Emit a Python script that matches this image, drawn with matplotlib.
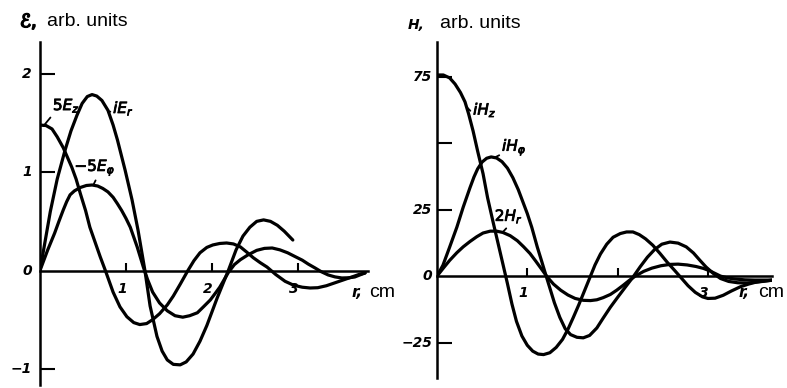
import matplotlib.pyplot as plt
import matplotlib.patheffects as pe

# --- electric field components, r in cm ---
r_Er = [0.0, 0.06, 0.12, 0.20, 0.29, 0.36, 0.43, 0.49, 0.55, 0.605, 0.66, 0.72, 0.79, 0.85,
        0.90, 0.99, 1.07, 1.14, 1.22, 1.28, 1.36, 1.42, 1.48, 1.55, 1.63, 1.70, 1.78, 1.86,
        1.94, 2.06, 2.19, 2.28, 2.36, 2.44, 2.52, 2.60, 2.68, 2.76, 2.84, 2.94]
iEr = [0.0, 0.30, 0.60, 0.93, 1.22, 1.42, 1.58, 1.70, 1.77, 1.79, 1.775, 1.73, 1.63, 1.48,
       1.33, 1.02, 0.72, 0.41, 0.0, -0.36, -0.67, -0.82, -0.91, -0.955, -0.96, -0.93, -0.85, -0.72,
       -0.56, -0.28, 0.0, 0.21, 0.35, 0.44, 0.50, 0.515, 0.50, 0.46, 0.40, 0.31]

r_Ez = [0.0, 0.07, 0.14, 0.20, 0.27, 0.33, 0.37, 0.42, 0.47, 0.53, 0.58, 0.64, 0.70, 0.76,
        0.85, 0.93, 1.01, 1.09, 1.16, 1.24, 1.31, 1.39, 1.48, 1.55, 1.63, 1.72, 1.79, 1.86,
        1.94, 2.01, 2.09, 2.17, 2.25, 2.33, 2.40, 2.48, 2.56, 2.64, 2.74, 2.85, 2.95, 3.05,
        3.14, 3.23, 3.33, 3.43, 3.53, 3.63, 3.71, 3.78]
Ez5 = [1.48, 1.475, 1.44, 1.36, 1.25, 1.13, 1.05, 0.93, 0.78, 0.61, 0.44, 0.29, 0.14, 0.0,
       -0.22, -0.37, -0.47, -0.53, -0.55, -0.54, -0.50, -0.44, -0.35, -0.26, -0.14, 0.0, 0.10, 0.18,
       0.235, 0.26, 0.275, 0.28, 0.27, 0.24, 0.19, 0.13, 0.08, 0.035, -0.04, -0.11, -0.15, -0.17,
       -0.178, -0.175, -0.155, -0.125, -0.095, -0.065, -0.04, -0.025]

r_Ephi = [0.0, 0.09, 0.17, 0.22, 0.27, 0.31, 0.35, 0.40, 0.47, 0.54, 0.605, 0.67, 0.73, 0.79,
          0.85, 0.90, 0.95, 1.00, 1.05, 1.09, 1.13, 1.20, 1.25, 1.31, 1.39, 1.48, 1.57, 1.66,
          1.74, 1.83, 1.90, 1.98, 2.04, 2.09, 2.19, 2.26, 2.33, 2.42, 2.52, 2.61, 2.70, 2.79,
          2.88, 2.97, 3.05, 3.12, 3.20, 3.27, 3.35, 3.43, 3.51, 3.59, 3.66, 3.72, 3.78]
Ephi5 = [0.0, 0.21, 0.38, 0.50, 0.615, 0.70, 0.77, 0.81, 0.845, 0.865, 0.87, 0.86, 0.835, 0.80,
         0.745, 0.68, 0.61, 0.53, 0.44, 0.34, 0.24, 0.04, -0.09, -0.22, -0.33, -0.41, -0.46, -0.475,
         -0.46, -0.43, -0.37, -0.30, -0.23, -0.17, -0.02, 0.06, 0.11, 0.16, 0.205, 0.225, 0.229, 0.21,
         0.18, 0.14, 0.105, 0.065, 0.025, -0.012, -0.045, -0.065, -0.076, -0.074, -0.066, -0.045, -0.025]

# --- magnetic field components ---
r_Hz = [0.0, 0.07, 0.14, 0.20, 0.26, 0.31, 0.35, 0.40, 0.45, 0.51, 0.56, 0.62, 0.675, 0.73,
        0.78, 0.83, 0.88, 0.94, 1.00, 1.06, 1.12, 1.18, 1.25, 1.32, 1.39, 1.45, 1.51, 1.57,
        1.63, 1.69, 1.75, 1.81, 1.88, 1.95, 2.03, 2.10, 2.17, 2.24, 2.31, 2.39, 2.47, 2.55,
        2.63, 2.70, 2.78, 2.86, 2.94, 3.00, 3.08, 3.17, 3.26, 3.36, 3.45, 3.54, 3.63, 3.72]
iHz = [75.6, 75.6, 74.5, 72.2, 69.0, 65.5, 61.0, 54.5, 47.0, 38.5, 29.5, 20.5, 12.5, 4.5,
       -2.8, -10.5, -17.0, -22.5, -26.0, -28.2, -29.3, -29.5, -28.8, -26.8, -23.8, -20.0, -15.5, -10.8,
       -5.8, -0.8, 4.2, 8.3, 12.0, 14.6, 16.0, 16.6, 16.6, 15.6, 14.0, 11.6, 8.5, 5.2,
       2.2, -0.5, -3.6, -6.1, -7.8, -8.4, -8.3, -7.2, -5.6, -4.0, -3.0, -2.2, -1.8, -1.5]

r_Hphi = [0.0, 0.066, 0.14, 0.22, 0.29, 0.365, 0.41, 0.45, 0.50, 0.55, 0.60, 0.66, 0.72, 0.78,
          0.84, 0.90, 0.95, 1.00, 1.05, 1.11, 1.16, 1.20, 1.25, 1.30, 1.36, 1.42, 1.48, 1.55,
          1.62, 1.69, 1.77, 1.84, 1.92, 2.00, 2.08, 2.17, 2.25, 2.33, 2.41, 2.49, 2.58, 2.67,
          2.76, 2.84, 2.91, 2.98, 3.06, 3.14, 3.23, 3.33, 3.43, 3.53, 3.63, 3.72]
iHphi = [0.0, 4.1, 10.9, 18.4, 25.9, 33.2, 37.3, 40.3, 42.9, 44.3, 44.8, 44.4, 43.0, 40.6,
         37.0, 32.5, 28.0, 23.5, 18.3, 11.0, 5.5, 1.0, -4.5, -10.0, -15.5, -19.8, -22.0, -23.0,
         -23.2, -22.3, -19.5, -15.8, -11.7, -8.0, -4.4, -0.4, 3.5, 7.1, 10.0, 12.0, 12.8, 12.4,
         11.0, 8.7, 6.0, 3.4, 1.0, -0.9, -2.0, -2.5, -2.6, -2.3, -1.9, -1.5]

r_Hr = [0.0, 0.07, 0.14, 0.22, 0.29, 0.365, 0.44, 0.51, 0.59, 0.66, 0.73, 0.81, 0.89, 0.96,
        1.03, 1.09, 1.15, 1.22, 1.29, 1.37, 1.45, 1.53, 1.62, 1.70, 1.77, 1.84, 1.92, 1.99,
        2.06, 2.13, 2.20, 2.29, 2.38, 2.48, 2.58, 2.67, 2.77, 2.87, 2.95, 3.02, 3.08, 3.14,
        3.22, 3.30, 3.41, 3.52, 3.62, 3.72]
Hr2 = [0.0, 3.0, 5.9, 8.8, 11.0, 13.0, 14.8, 16.2, 16.9, 16.9, 16.4, 15.2, 13.3, 11.0,
       8.5, 5.8, 3.0, -0.3, -3.0, -5.3, -7.1, -8.4, -9.1, -9.2, -8.9, -8.1, -6.9, -5.3,
       -3.5, -1.6, 0.1, 1.8, 3.0, 3.9, 4.4, 4.5, 4.2, 3.6, 2.9, 2.0, 1.0, 0.0,
       -0.7, -1.1, -1.4, -1.5, -1.5, -1.5]

W, H = 787, 388
fig = plt.figure(figsize=(W / 100, H / 100), dpi=100)

def px(x, y):
    return x / W, 1 - y / H

LW = 2.3
hand = dict(fontsize=10, fontstyle='italic', fontweight='bold', family='DejaVu Sans')
thick = [pe.withStroke(linewidth=0.6, foreground='black')]
bold_ink = [pe.withStroke(linewidth=1.2, foreground='black')]

def setup(ax, xmax, ymin, ymax, yticks):
    ax.set_xlim(0, xmax)
    ax.set_ylim(ymin, ymax)
    for s in ('top', 'right'):
        ax.spines[s].set_visible(False)
    ax.spines['bottom'].set_position(('data', 0))
    ax.spines['left'].set_position(('data', 0))
    for s in ('bottom', 'left'):
        ax.spines[s].set_linewidth(1.8)
    ax.set_xticks([1, 2, 3])
    ax.set_yticks(yticks)
    ax.tick_params(axis='both', direction='in', width=1.5, labelbottom=False, labelleft=False)
    ax.tick_params(axis='x', length=6)
    ax.tick_params(axis='y', length=11)
    ax.patch.set_visible(False)

def lbl(ax, x, y, s, dx=0, dy=0, ha='center'):
    ax.annotate(s, (x, y), xytext=(dx, dy), textcoords='offset pixels',
                ha=ha, va='center', **hand)

def curve_label(ax, s, xy_text, xy_curve, start):
    ax.annotate(s, xy_curve, xytext=xy_text, ha='left', va='center', fontsize=11,
                path_effects=thick,
                arrowprops=dict(arrowstyle='-', lw=1.3, shrinkA=0, shrinkB=0,
                                relpos=start))

def draw(ax, r, v):
    ax.plot(r, v, color='black', lw=LW, solid_capstyle='round', solid_joinstyle='round')

# ---------- left panel: E ----------
axE = fig.add_axes([40 / W, 3 / H, 328 / W, 343 / H])
setup(axE, 3.814, -1.165, 2.325, [-1, 1, 2])
draw(axE, r_Er, iEr)
draw(axE, r_Ez, Ez5)
draw(axE, r_Ephi, Ephi5)

for v, s in ((2, '2'), (1, '1'), (0, '0'), (-1, '\u22121')):
    lbl(axE, 0, v, s, dx=-8, ha='right')
for v in (1, 2, 3):
    lbl(axE, v, 0, str(v), dx=-4, dy=-18)

curve_label(axE, r'$5E_z$', (0.15, 1.68), (0.04, 1.47), (0.05, 0.1))
curve_label(axE, r'$iE_r$', (0.85, 1.65), (0.79, 1.62), (0.0, 0.3))
curve_label(axE, r'$-5E_\varphi$', (0.40, 1.05), (0.62, 0.87), (0.55, 0.0))

fig.text(*px(20, 27), '\u2130,', fontsize=13, va='baseline', path_effects=bold_ink)
fig.text(*px(47, 26), 'arb. units', fontsize=14, family='Liberation Sans', va='baseline')
fig.text(*px(352, 297), 'r,', fontsize=11, fontstyle='italic', fontweight='bold', va='baseline')
fig.text(*px(369, 297), 'cm', fontsize=14, family='Liberation Sans', va='baseline')

# ---------- right panel: H ----------
axH = fig.add_axes([437 / W, 10 / H, 335 / W, 336 / H])
setup(axH, 3.710, -38.3, 88.0, [-25, 25, 50, 75])
draw(axH, r_Hz, iHz)
draw(axH, r_Hphi, iHphi)
draw(axH, r_Hr, Hr2)

for v, s in ((75, '75'), (25, '25'), (0, '0'), (-25, '\u221225')):
    lbl(axH, 0, v, s, dx=-5, ha='right')
for v in (1, 3):
    lbl(axH, v, 0, str(v), dx=-4, dy=-17)

curve_label(axH, r'$iH_z$', (0.40, 62.5), (0.33, 63.5), (0.0, 0.3))
curve_label(axH, r'$iH_\varphi$', (0.72, 48.5), (0.64, 44.6), (0.05, 0.2))
curve_label(axH, r'$2H_r$', (0.64, 22.5), (0.73, 16.6), (0.5, 0.0))

fig.text(*px(408, 29), 'H,', fontsize=10, fontstyle='italic', fontweight='bold', va='baseline')
fig.text(*px(440, 28), 'arb. units', fontsize=14, family='Liberation Sans', va='baseline')
fig.text(*px(739, 297), 'r,', fontsize=11, fontstyle='italic', fontweight='bold', va='baseline')
fig.text(*px(758, 297), 'cm', fontsize=14, family='Liberation Sans', va='baseline')

fig.savefig('out.png', dpi=100)
